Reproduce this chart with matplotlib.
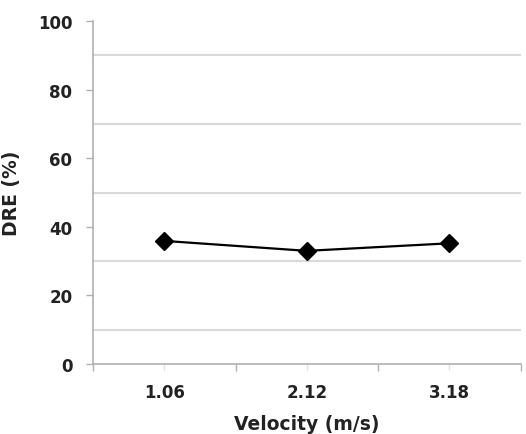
import numpy as np
import matplotlib.pyplot as plt
from matplotlib.ticker import MultipleLocator, FixedLocator

velocity = ['1.06', '2.12', '3.18']
dre = [35.9, 33.0, 35.2]

plt.rcParams['font.family'] = 'DejaVu Sans'

fig = plt.figure(figsize=(5.26, 4.35), dpi=100)
ax = fig.add_axes([0.177, 0.161, 0.813, 0.788])

x = np.arange(len(velocity))
ax.plot(x, dre, color='black', lw=1.6, marker='D', markersize=9,
        markerfacecolor='black', zorder=3)

ax.set_xlim(-0.5, len(velocity) - 0.5)
ax.set_ylim(0, 100)

# labels on category centres, tick marks on category boundaries
ax.set_xticks(x)
ax.set_xticklabels(velocity)
ax.xaxis.set_minor_locator(FixedLocator(np.arange(len(velocity) + 1) - 0.5))
ax.tick_params(axis='x', which='major', length=4, color='#e0e0e0', width=1, pad=10)
ax.tick_params(axis='x', which='minor', length=5, color='#b0b0b0', width=1)

ax.yaxis.set_major_locator(MultipleLocator(20))
ax.yaxis.set_minor_locator(FixedLocator([10, 30, 50, 70, 90]))
ax.tick_params(axis='y', which='major', length=5, color='#b0b0b0', width=1, pad=10)
ax.tick_params(axis='y', which='minor', length=0)
ax.grid(axis='y', which='minor', color='#d9d9d9', lw=1.5)

for lab in ax.get_xticklabels() + ax.get_yticklabels():
    lab.set_fontsize(12)
    lab.set_fontweight('bold')
    lab.set_color('#222222')

ax.set_xlabel('Velocity (m/s)', fontsize=13.5, fontweight='bold', color='#222222', labelpad=9)
ax.set_ylabel('DRE (%)', fontsize=13.5, fontweight='bold', color='#222222', labelpad=12)

for s in ['top', 'right']:
    ax.spines[s].set_visible(False)
for s in ['left', 'bottom']:
    ax.spines[s].set_color('#b0b0b0')
    ax.spines[s].set_linewidth(1.2)

fig.savefig('out.png', dpi=100)
